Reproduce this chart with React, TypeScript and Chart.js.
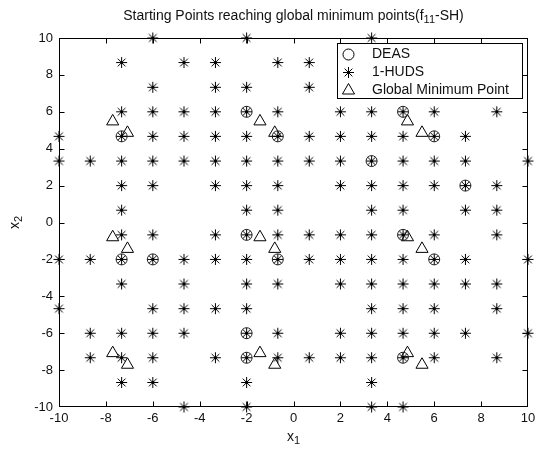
import React, { useEffect, useRef } from 'react';
import { Chart, registerables } from 'chart.js';

Chart.register(...registerables);

// ---- text ----
const TITLE_MAIN = 'Starting Points reaching global minimum points(f';
const TITLE_SUB = '11';
const TITLE_END = '-SH)';
const X_LABEL = 'x';
const X_LABEL_SUB = '1';
const Y_LABEL = 'x';
const Y_LABEL_SUB = '2';
const LEGEND_LABELS = ['DEAS', '1-HUDS', 'Global Minimum Point'];

// ---- axes ----
const AXIS_MIN = -10;
const AXIS_MAX = 10;
const AXIS_STEP = 2;

// ---- 1-HUDS starting points, row by row (x2 value, then the x1 values) ----
const hudsRowY = [10, 8.67, 7.33, 6, 4.67, 3.33, 2, 0.67, -0.67, -2, -3.33, -4.67, -6, -7.33, -8.67, -10];
const hudsRowX: number[][] = [
  [-6, -2, 3.33],
  [-7.33, -4.67, -3.33, -0.67, 0.67],
  [-6, -3.33, -2, 0.67],
  [-7.33, -6, -4.67, -3.33, -2, -0.67, 2, 3.33, 4.67, 6, 8.67],
  [-10, -7.33, -6, -4.67, -3.33, -2, -0.67, 0.67, 2, 3.33, 4.67, 6, 7.33],
  [-10, -8.67, -7.33, -6, -4.67, -3.33, -2, -0.67, 0.67, 2, 3.33, 4.67, 6, 7.33, 10],
  [-7.33, -6, -3.33, -2, -0.67, 2, 3.33, 4.67, 6, 7.33, 8.67],
  [-7.33, -2, -0.67, 3.33, 4.67, 7.33, 8.67],
  [-7.33, -6, -3.33, -2, -0.67, 0.67, 2, 3.33, 4.67, 6, 8.67],
  [-10, -8.67, -7.33, -6, -4.67, -3.33, -2, -0.67, 0.67, 2, 3.33, 4.67, 6, 7.33, 10],
  [-7.33, -4.67, -2, -0.67, 2, 3.33, 4.67, 6, 7.33, 8.67],
  [-10, -6, -4.67, -3.33, -2, 3.33, 4.67, 6, 8.67],
  [-8.67, -7.33, -6, -4.67, -2, -0.67, 2, 3.33, 4.67, 6, 7.33, 10],
  [-8.67, -7.33, -6, -3.33, -2, -0.67, 0.67, 2, 3.33, 4.67, 6, 8.67],
  [-7.33, -6, -2, 3.33],
  [-4.67, -2, 3.33, 4.67],
];

// ---- DEAS starting points ----
const deasX = [-2, 4.67, -7.33, -0.67, 6, 3.33, 7.33, -2, 4.67, -7.33, -6, -0.67, 6, -2, -2, 4.67];
const deasY = [6, 6, 4.67, 4.67, 4.67, 3.33, 2, -0.67, -0.67, -2, -2, -2, -2, -6, -7.33, -7.33];

// ---- Global minimum points ----
const gmX = [-7.71, -1.43, 4.86, -7.08, -0.8, 5.48, -7.71, -1.43, 4.86, -7.08, -0.8, 5.48, -7.71, -1.43, 4.86, -7.08, -0.8, 5.48];
const gmY = [5.48, 5.48, 5.48, 4.86, 4.86, 4.86, -0.8, -0.8, -0.8, -1.43, -1.43, -1.43, -7.08, -7.08, -7.08, -7.71, -7.71, -7.71];

const FONT = '"Liberation Sans", Arial, Helvetica, sans-serif';
const TICK_FONT_SIZE = 13;
const TEXT_FONT_SIZE = 14;
const TEXT_COLOR = '#111';

const R_CIRCLE = 5.5;
const R_STAR = 5.5;
const R_TRI = 7;

function makeStar(r: number): HTMLCanvasElement {
  const size = Math.ceil(r * 2 + 2);
  const c = document.createElement('canvas');
  c.width = size;
  c.height = size;
  const g = c.getContext('2d')!;
  const m = size / 2;
  g.strokeStyle = '#000';
  g.lineWidth = 1;
  g.beginPath();
  g.moveTo(m - r, m); g.lineTo(m + r, m);
  g.moveTo(m, m - r); g.lineTo(m, m + r);
  const d = r * Math.SQRT1_2;
  g.moveTo(m - d, m - d); g.lineTo(m + d, m + d);
  g.moveTo(m - d, m + d); g.lineTo(m + d, m - d);
  g.stroke();
  g.fillStyle = '#000';
  g.beginPath();
  g.arc(m, m, 1.4, 0, Math.PI * 2);
  g.fill();
  return c;
}

function drawMarker(ctx: CanvasRenderingContext2D, style: string, x: number, y: number, r: number, star: HTMLCanvasElement) {
  if (style === 'star') {
    ctx.drawImage(star, x - star.width / 2, y - star.height / 2);
    return;
  }
  ctx.beginPath();
  if (style === 'circle') {
    ctx.arc(x, y, r, 0, Math.PI * 2);
  } else {
    ctx.moveTo(x, y - r);
    ctx.lineTo(x + r * 0.866, y + r * 0.5);
    ctx.lineTo(x - r * 0.866, y + r * 0.5);
    ctx.closePath();
  }
  ctx.stroke();
}

function drawSubText(ctx: CanvasRenderingContext2D, parts: [string, boolean][], cx: number, cy: number) {
  const big = `${TEXT_FONT_SIZE}px ${FONT}`;
  const small = `${Math.round(TEXT_FONT_SIZE * 0.75)}px ${FONT}`;
  let total = 0;
  for (const [t, sub] of parts) {
    ctx.font = sub ? small : big;
    total += ctx.measureText(t).width;
  }
  let x = cx - total / 2;
  ctx.textAlign = 'left';
  ctx.textBaseline = 'middle';
  for (const [t, sub] of parts) {
    ctx.font = sub ? small : big;
    ctx.fillText(t, x, sub ? cy + 4 : cy);
    x += ctx.measureText(t).width;
  }
}

function makeDecorPlugin(star: HTMLCanvasElement) {
  return {
    id: 'decor',
    beforeDatasetsDraw(chart: any) {
      const { ctx, chartArea: a, scales } = chart;
      const xs = scales.x;
      const ys = scales.y;
      ctx.save();
      ctx.strokeStyle = '#000';
      ctx.lineWidth = 1;
      const L = Math.round(a.left) + 0.5;
      const R = Math.round(a.right) - 0.5;
      const T = Math.round(a.top) + 0.5;
      const B = Math.round(a.bottom) - 0.5;
      ctx.strokeRect(L, T, R - L, B - T);
      const len = 5;
      ctx.beginPath();
      for (let v = AXIS_MIN + AXIS_STEP; v < AXIS_MAX; v += AXIS_STEP) {
        const px = Math.round(xs.getPixelForValue(v)) + 0.5;
        ctx.moveTo(px, B); ctx.lineTo(px, B - len);
        ctx.moveTo(px, T); ctx.lineTo(px, T + len);
        const py = Math.round(ys.getPixelForValue(v)) + 0.5;
        ctx.moveTo(L, py); ctx.lineTo(L + len, py);
        ctx.moveTo(R, py); ctx.lineTo(R - len, py);
      }
      ctx.stroke();
      ctx.restore();
    },
    afterDraw(chart: any) {
      const { ctx, chartArea: a } = chart;
      ctx.save();
      ctx.fillStyle = TEXT_COLOR;
      const cx = (a.left + a.right) / 2;
      const cy = (a.top + a.bottom) / 2;
      // title
      drawSubText(ctx, [[TITLE_MAIN, false], [TITLE_SUB, true], [TITLE_END, false]], cx, 16);
      // x label
      drawSubText(ctx, [[X_LABEL, false], [X_LABEL_SUB, true]], cx, 437);
      // y label rotated
      ctx.save();
      ctx.translate(15, cy);
      ctx.rotate(-Math.PI / 2);
      drawSubText(ctx, [[Y_LABEL, false], [Y_LABEL_SUB, true]], 0, 0);
      ctx.restore();

      // legend
      const lx = 337.5, ly = 43.5, lw = 185, lh = 55;
      ctx.fillStyle = '#fff';
      ctx.fillRect(lx, ly, lw, lh);
      ctx.strokeStyle = '#000';
      ctx.lineWidth = 1;
      ctx.strokeRect(lx, ly, lw, lh);
      const styles = ['circle', 'star', 'triangle'];
      const radii = [R_CIRCLE, R_STAR, R_TRI];
      const rowsY = [54, 72, 90];
      ctx.font = `${TEXT_FONT_SIZE}px ${FONT}`;
      ctx.textAlign = 'left';
      ctx.textBaseline = 'middle';
      for (let i = 0; i < 3; i++) {
        ctx.strokeStyle = '#000';
        drawMarker(ctx, styles[i], 348.5, rowsY[i] + 0.5, radii[i], star);
        ctx.fillStyle = TEXT_COLOR;
        ctx.fillText(chart.data.datasets[i].label, 372, rowsY[i]);
      }
      ctx.restore();
    },
  };
}

export default function App() {
  const ref = useRef<HTMLCanvasElement | null>(null);
  useEffect(() => {
    if (!ref.current) return;
    const star = makeStar(R_STAR);
    const hudsData: { x: number; y: number }[] = [];
    hudsRowY.forEach((y, i) => hudsRowX[i].forEach((x) => hudsData.push({ x, y })));
    const deasData = deasX.map((x, i) => ({ x, y: deasY[i] }));
    const gmData = gmX.map((x, i) => ({ x, y: gmY[i] }));
    const tickFont = { family: FONT, size: TICK_FONT_SIZE };
    const chart = new Chart(ref.current, {
      type: 'scatter',
      data: {
        datasets: [
          {
            label: LEGEND_LABELS[0], data: deasData, pointStyle: 'circle', pointRadius: R_CIRCLE,
            borderColor: '#222', backgroundColor: 'rgba(0,0,0,0)', borderWidth: 1, clip: false as any,
          },
          {
            label: LEGEND_LABELS[1], data: hudsData, pointStyle: star as any, pointRadius: R_STAR,
            borderColor: '#000', backgroundColor: '#000', borderWidth: 1, clip: false as any,
          },
          {
            label: LEGEND_LABELS[2], data: gmData, pointStyle: 'triangle', pointRadius: R_TRI,
            borderColor: '#000', backgroundColor: 'rgba(0,0,0,0)', borderWidth: 1, clip: false as any,
          },
        ],
      },
      options: {
        responsive: false,
        animation: false,
        events: [],
        layout: { padding: { top: 38, right: 7, left: 0, bottom: 0 } },
        plugins: { legend: { display: false }, title: { display: false }, tooltip: { enabled: false } },
        scales: {
          x: {
            type: 'linear', min: AXIS_MIN, max: AXIS_MAX,
            ticks: { stepSize: AXIS_STEP, font: tickFont, color: TEXT_COLOR, padding: 4, maxRotation: 0, autoSkip: false },
            grid: { display: false, drawTicks: false },
            border: { display: false },
            afterFit: (s: any) => { s.height = 44; s.paddingLeft = 0; s.paddingRight = 0; },
          },
          y: {
            type: 'linear', min: AXIS_MIN, max: AXIS_MAX,
            ticks: { stepSize: AXIS_STEP, font: tickFont, color: TEXT_COLOR, padding: 6, autoSkip: false },
            grid: { display: false, drawTicks: false },
            border: { display: false },
            afterFit: (s: any) => { s.width = 59; s.paddingTop = 0; s.paddingBottom = 0; },
          },
        },
      },
      plugins: [makeDecorPlugin(star)],
    });
    return () => chart.destroy();
  }, []);
  return (
    <div style={{ position: 'absolute', left: 0, top: 0, width: 536, height: 451, background: '#fff' }}>
      <canvas ref={ref} width={536} height={451} style={{ display: 'block' }} />
    </div>
  );
}
